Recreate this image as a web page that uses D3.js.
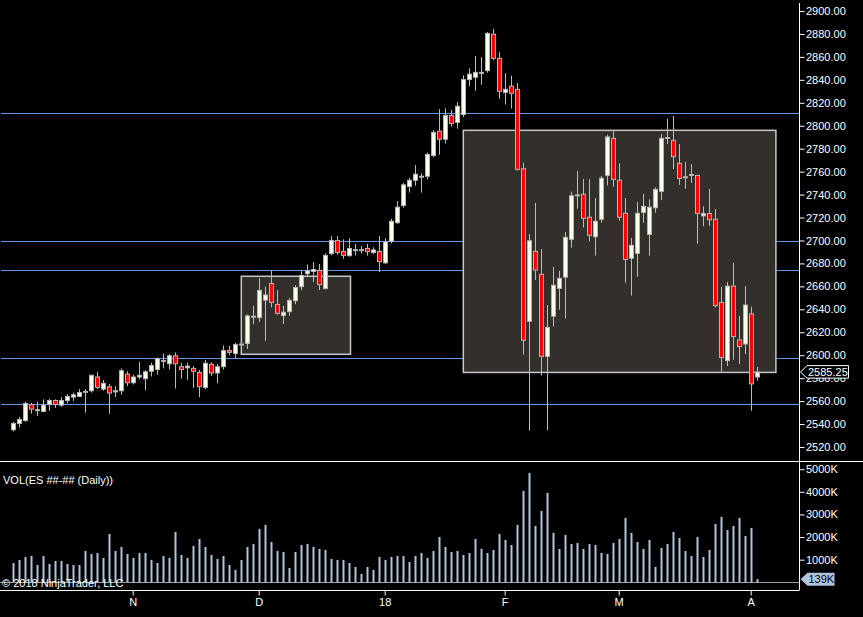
<!DOCTYPE html>
<html>
<head>
<meta charset="utf-8">
<script src="https://cdn.jsdelivr.net/npm/d3@7"></script>
<style>
  body { margin: 0; background: #000; }
  svg { display: block; }
  text { font-family: Arial, "Liberation Sans", sans-serif; font-size: 11px; }
</style>
</head>
<body>
<div id="chart"></div>
<script>
// Daily ES bars, Oct 2017 - Apr 2018
const opens = [2535, 2540.5, 2543, 2557, 2552, 2551, 2557, 2560.5, 2556.5, 2560.5,
  2563.5, 2564, 2568.5, 2569, 2581, 2570.5, 2572.5, 2568, 2569, 2583.5,
  2576, 2581, 2579.5, 2586, 2587.5, 2595.25, 2592.5, 2599.5, 2590, 2589,
  2588.5, 2585, 2572, 2592, 2584.5, 2590, 2604, 2601.5, 2609.5, 2610.25,
  2633.5, 2632.75, 2648, 2662.5, 2644.25, 2634.5, 2638, 2647.5, 2659.75, 2671,
  2673, 2674, 2658, 2688.5, 2700, 2690.5, 2686.75, 2691.75, 2692, 2693,
  2689.5, 2690.5, 2680.5, 2699.25, 2715.5, 2730.5, 2747, 2752.5, 2755.5, 2756,
  2774, 2795.25, 2788.25, 2809, 2802.75, 2809.75, 2840.25, 2842.25, 2846.25, 2848,
  2879.75, 2858.75, 2829, 2834.5, 2831.75, 2762.5, 2629.5, 2690.5, 2670.5, 2599,
  2634, 2658.25, 2668, 2701, 2739.5, 2740.25, 2720.25, 2703.25, 2718.5, 2756.75,
  2789, 2752.5, 2723.75, 2684.5, 2688.75, 2724.5, 2705.25, 2728.5, 2742.75, 2789.5,
  2787.25, 2767.25, 2755.25, 2757.25, 2756.75, 2721.5, 2723.5, 2718.5, 2646, 2595.25,
  2660.25, 2613.25, 2609.75, 2636, 2581];
const highs = [2542, 2546, 2559.5, 2558.5, 2559.5, 2561.5, 2562, 2561.5, 2563.5, 2566,
  2567.5, 2570.5, 2570.5, 2583, 2585.5, 2578.5, 2575, 2573, 2588.5, 2586,
  2583, 2594, 2587, 2593.5, 2598, 2601.5, 2601, 2602.5, 2593.5, 2593.5,
  2590.5, 2587, 2596, 2594, 2592.5, 2608.5, 2608, 2611, 2612, 2635.5,
  2643, 2667.25, 2659.75, 2673.5, 2656.75, 2643, 2649.75, 2661, 2673.5, 2679,
  2681.25, 2679.5, 2688.75, 2704, 2704, 2701, 2701.75, 2697, 2695.25, 2697,
  2694, 2704, 2702, 2719, 2734.25, 2750, 2754.5, 2765.75, 2758.5, 2776.5,
  2796.25, 2814.5, 2815.25, 2813.75, 2820.75, 2844, 2850, 2860.75, 2859.75, 2881.75,
  2884.5, 2864, 2845.75, 2843.5, 2837.25, 2767.75, 2705.5, 2732.75, 2692.5, 2643.75,
  2677, 2673.5, 2707.5, 2742.5, 2760.5, 2753.5, 2753.5, 2737, 2756.25, 2792.25,
  2796.25, 2767.25, 2737, 2702.25, 2733.5, 2740.5, 2735.75, 2746.25, 2792.75, 2806,
  2808.5, 2784, 2768.5, 2766.5, 2757, 2729.75, 2745, 2727.5, 2659.5, 2663.75,
  2680.5, 2634.25, 2660.25, 2642.25, 2589.75];
const lows = [2533.5, 2537, 2542, 2549, 2547, 2550.5, 2551.5, 2554, 2555, 2558,
  2560, 2563.5, 2550, 2567.5, 2570.5, 2569, 2549, 2563.5, 2565.5, 2573,
  2574.5, 2579, 2569.5, 2581.5, 2583, 2588.5, 2587.5, 2571, 2579.5, 2578.5,
  2571.5, 2563.5, 2570.5, 2582, 2575.5, 2587.5, 2600, 2597.5, 2607, 2605.5,
  2627, 2629, 2612.5, 2641.75, 2635.25, 2627.25, 2634.25, 2644.5, 2656.75, 2668.5,
  2663.75, 2656.75, 2657.5, 2687, 2687.5, 2684, 2686, 2687, 2688.75, 2686.75,
  2688.25, 2672.5, 2679.5, 2697.5, 2714.5, 2728.5, 2741.75, 2747.75, 2741.75, 2753.25,
  2772.5, 2774.75, 2784.5, 2799.25, 2797.5, 2807.5, 2834.5, 2830.5, 2835.75, 2846.25,
  2857, 2823.5, 2818.5, 2815, 2761, 2600.5, 2534.25, 2665.5, 2582.25, 2534.75,
  2625, 2639.5, 2632, 2693.75, 2727.75, 2711.25, 2699.25, 2686.75, 2715.5, 2748,
  2747, 2717.25, 2663.25, 2652, 2668.5, 2715.5, 2686.75, 2724.25, 2735.25, 2784,
  2762.25, 2748.5, 2745, 2750, 2697.25, 2712.5, 2712.5, 2641.5, 2585.5, 2590.5,
  2596, 2592.25, 2601, 2551.5, 2577.75];
const closes = [2540.5, 2544, 2558, 2553, 2552.5, 2556.5, 2560.5, 2557, 2560.5, 2564,
  2565.5, 2567.5, 2568.25, 2582.5, 2572, 2575.5, 2567, 2569, 2586.5, 2576,
  2581, 2582.5, 2585.5, 2591, 2597, 2595.5, 2599.5, 2592.5, 2587.5, 2590.5,
  2586, 2572.5, 2593, 2584.5, 2590, 2604, 2602.5, 2609.25, 2609.75, 2634.25,
  2634, 2656.5, 2652.5, 2646, 2636.5, 2637.5, 2647.75, 2659, 2669.5, 2673.5,
  2674.75, 2661.5, 2687, 2700, 2689.5, 2687, 2693, 2692, 2691.75, 2690.25,
  2691.75, 2681.5, 2698.75, 2716.75, 2729, 2748.5, 2752.5, 2757.75, 2756, 2775,
  2794.25, 2788.25, 2809, 2802, 2817, 2840.25, 2845, 2846.5, 2846.5, 2880.5,
  2858.75, 2830, 2831.75, 2828.25, 2762, 2613, 2699.75, 2674.25, 2599, 2624.25,
  2661, 2667, 2702.75, 2739, 2739.75, 2719.25, 2704.5, 2716.75, 2754.25, 2790.25,
  2753.25, 2720.25, 2683.5, 2695.75, 2723.75, 2729.75, 2729, 2744.5, 2789, 2789.75,
  2773, 2754, 2755.5, 2757.5, 2723.5, 2723.5, 2718, 2643.25, 2598, 2660.25,
  2616.25, 2607.5, 2643.75, 2575, 2585.25];
// volume in thousands of contracts
const volumes = [855, 988, 1121, 1165, 767, 1165, 811, 944, 944, 811,
  767, 767, 1387, 1254, 1298, 1077, 2139, 1387, 1564, 1254,
  1077, 1298, 1298, 988, 855, 1165, 1077, 2227, 1210, 1077,
  1608, 1918, 1564, 1210, 1033, 1165, 767, 546, 988, 1564,
  1696, 2360, 2537, 1785, 1387, 1342, 634, 1342, 1652, 1696,
  1564, 1475, 1431, 1033, 988, 988, 855, 679, 369, 679,
  546, 1121, 988, 1121, 1165, 1165, 900, 1165, 1298, 1077,
  1387, 2006, 1564, 1342, 1387, 1210, 1298, 1918, 1475, 1298,
  1431, 2139, 1873, 1652, 2537, 4042, 4838, 2493, 3157, 3953,
  2183, 1475, 2095, 1696, 1741, 1475, 1696, 1652, 1298, 1254,
  1741, 1918, 2847, 2183, 1785, 1475, 1873, 679, 1519, 1696,
  2227, 1962, 1387, 1165, 2006, 1121, 1431, 2581, 2891, 2316,
  2493, 2847, 2050, 2404, 139];

// month markers on the time axis (bar index -> label)
const monthIndex = [20, 41, 62, 82, 101, 123];
const monthLabels = ["N", "D", "18", "F", "M", "A"];

// drawn objects
const levels = [2811, 2699.5, 2674, 2597.5, 2557.5];
const boxStart = [38.1, 75.1];
const boxEnd = [56.3, 127.2];
const boxTop = [2668.8, 2796];
const boxBottom = [2600.8, 2585];

const priceTicks = d3.range(2520, 2901, 20);
const volTicks = [1000, 2000, 3000, 4000, 5000];

const W = 863, H = 617;
const axisX = 799.5;

const svg = d3.select("#chart").append("svg")
    .attr("width", W)
    .attr("height", H)
    .style("background", "#000");

const x = d3.scaleLinear().domain([0, 124]).range([12.7, 756.7]);
const y = d3.scaleLinear().domain([2520, 2900]).range([447, 11]);
const yv = d3.scaleLinear().domain([0, 5000]).range([582.3, 469.2]);

// horizontal levels
svg.selectAll("line.level")
    .data(levels)
    .enter().append("line")
    .attr("class", "level")
    .attr("x1", 1).attr("x2", axisX)
    .attr("y1", d => Math.round(y(d)) + 0.5)
    .attr("y2", d => Math.round(y(d)) + 0.5)
    .attr("stroke", "#6495ed")
    .attr("stroke-width", 1);

// rectangles
svg.selectAll("rect.box")
    .data(boxStart)
    .enter().append("rect")
    .attr("class", "box")
    .attr("x", (d, i) => x(d))
    .attr("y", (d, i) => y(boxTop[i]))
    .attr("width", (d, i) => x(boxEnd[i]) - x(d))
    .attr("height", (d, i) => y(boxBottom[i]) - y(boxTop[i]))
    .attr("fill", "#332f2b")
    .attr("stroke", "#c4c8cc")
    .attr("stroke-width", 1.5);

// candles
const idx = d3.range(opens.length);
const candle = svg.append("g");

candle.selectAll("line.wick")
    .data(idx)
    .enter().append("line")
    .attr("x1", i => Math.round(x(i)) + 0.5)
    .attr("x2", i => Math.round(x(i)) + 0.5)
    .attr("y1", i => y(highs[i]))
    .attr("y2", i => y(lows[i]))
    .attr("stroke", "#bcbcbc")
    .attr("stroke-width", 1);

candle.selectAll("rect.body")
    .data(idx)
    .enter().append("rect")
    .attr("x", i => Math.round(x(i)) - 1.5)
    .attr("y", i => y(Math.max(opens[i], closes[i])))
    .attr("width", 4)
    .attr("height", i => Math.max(1, Math.abs(y(opens[i]) - y(closes[i]))))
    .attr("fill", i => closes[i] >= opens[i] ? "#fffff0" : "#ff0000")
    .attr("stroke", "#b4b4b4")
    .attr("stroke-width", 1);

// panel separator and axes lines
svg.append("line")
    .attr("x1", 0).attr("x2", W)
    .attr("y1", 461.5).attr("y2", 461.5)
    .attr("stroke", "#fff");

svg.append("line")
    .attr("x1", axisX).attr("x2", axisX)
    .attr("y1", 3).attr("y2", 590)
    .attr("stroke", "#fff");

// price axis
const yAxis = svg.append("g")
    .attr("transform", "translate(" + axisX + ",0)")
    .call(d3.axisRight(y).tickValues(priceTicks).tickSize(5).tickPadding(1.5)
        .tickFormat(d3.format(".2f")));
yAxis.select(".domain").remove();
yAxis.selectAll("line").attr("stroke", "#fff");
yAxis.selectAll("text").attr("fill", "#fff").style("font-size", "11px");

// volume bars
svg.append("line")
    .attr("x1", 0).attr("x2", axisX)
    .attr("y1", 582.5).attr("y2", 582.5)
    .attr("stroke", "#a0a0a0");

svg.selectAll("rect.vol")
    .data(volumes)
    .enter().append("rect")
    .attr("class", "vol")
    .attr("x", (d, i) => Math.round(x(i)) - 0.5)
    .attr("y", d => yv(d))
    .attr("width", 2)
    .attr("height", d => yv(0) - yv(d))
    .attr("fill", "#b0c4de");

const vAxis = svg.append("g")
    .attr("transform", "translate(" + axisX + ",0)")
    .call(d3.axisRight(yv).tickValues(volTicks).tickSize(5).tickPadding(1.5)
        .tickFormat(d => d + "K"));
vAxis.select(".domain").remove();
vAxis.selectAll("line").attr("stroke", "#fff");
vAxis.selectAll("text").attr("fill", "#fff").style("font-size", "11px");

// time axis
svg.append("line")
    .attr("x1", 0).attr("x2", axisX)
    .attr("y1", 590.5).attr("y2", 590.5)
    .attr("stroke", "#fff");

const xAxis = svg.append("g")
    .attr("transform", "translate(0,590.5)")
    .call(d3.axisBottom(x).tickValues(monthIndex).tickSize(5).tickPadding(3)
        .tickFormat((d, i) => monthLabels[i]));
xAxis.select(".domain").remove();
xAxis.selectAll("line").attr("stroke", "#fff");
xAxis.selectAll("text").attr("fill", "#fff").style("font-size", "11px");

// labels
svg.append("text")
    .attr("x", 3).attr("y", 484)
    .attr("fill", "#fff")
    .text("VOL(ES ##-## (Daily))");

svg.append("text")
    .attr("x", 2).attr("y", 587)
    .attr("fill", "#fff")
    .text("\u00a9 2018 NinjaTrader, LLC");

// last price marker
const lastClose = closes[closes.length - 1];
const ly = y(lastClose);
svg.append("path")
    .attr("d", "M" + (axisX + 1) + "," + ly + " L" + (axisX + 7.5) + "," + (ly - 6.5) +
        " L848.5," + (ly - 6.5) + " L848.5," + (ly + 6) + " L" + (axisX + 7.5) + "," + (ly + 6) + " Z")
    .attr("fill", "#000")
    .attr("stroke", "#fff");
svg.append("text")
    .attr("x", axisX + 8.5).attr("y", ly + 4)
    .attr("fill", "#fff")
    .text(d3.format(".2f")(lastClose));

// last volume marker
const lastVol = volumes[volumes.length - 1];
const vy = yv(lastVol);
svg.append("path")
    .attr("d", "M" + (axisX + 1) + "," + vy + " L" + (axisX + 8) + "," + (vy - 6.5) +
        " L834.5," + (vy - 6.5) + " L834.5," + (vy + 6.5) + " L" + (axisX + 8) + "," + (vy + 6.5) + " Z")
    .attr("fill", "#b0c4de");
svg.append("text")
    .attr("x", axisX + 9).attr("y", vy + 4)
    .attr("fill", "#000")
    .text(lastVol + "K");
</script>
</body>
</html>
